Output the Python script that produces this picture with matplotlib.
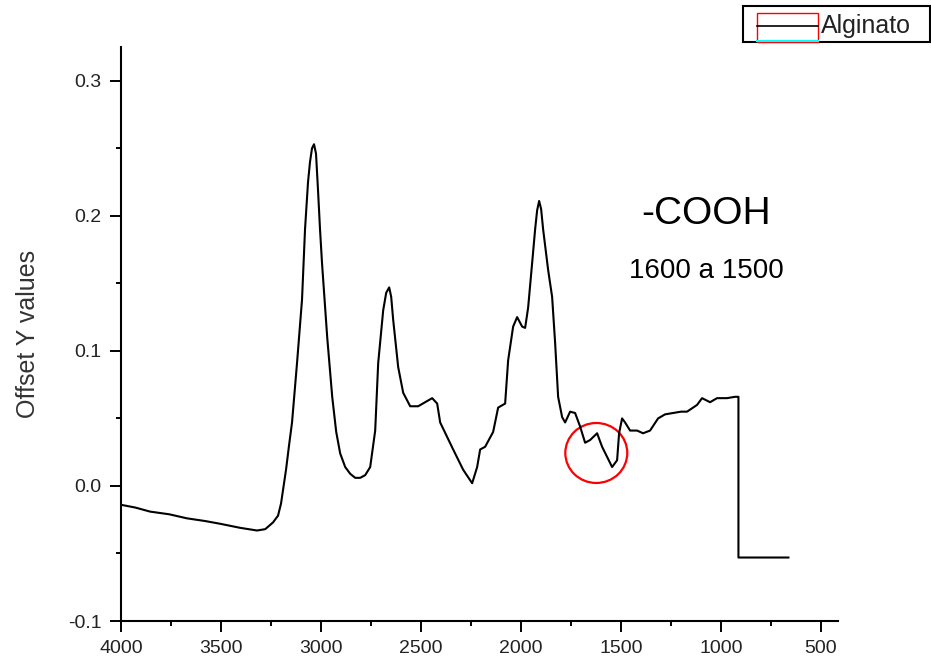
import matplotlib
matplotlib.use('Agg')
import matplotlib.pyplot as plt
from matplotlib.patches import Ellipse, Rectangle
from matplotlib.lines import Line2D
from matplotlib.ticker import MultipleLocator, FormatStrFormatter

plt.rcParams['font.family'] = ['Liberation Sans', 'DejaVu Sans']
plt.rcParams['axes.unicode_minus'] = False

###  DATA  ###
wavenumber = [4000, 3930, 3856, 3760, 3671, 3580, 3506, 3406, 3321, 3280,
              3241, 3216, 3201, 3191, 3176, 3161, 3146, 3121, 3096, 3081,
              3066, 3056, 3046, 3036, 3026, 3016, 3006, 2996, 2970, 2945,
              2925, 2905, 2880, 2855, 2830, 2805, 2780, 2755, 2730, 2715,
              2690, 2675, 2660, 2650, 2640, 2615, 2590, 2555, 2515, 2480,
              2445, 2420, 2405, 2340, 2290, 2245, 2220, 2205, 2180, 2140,
              2115, 2080, 2065, 2040, 2020, 1995, 1980, 1965, 1945, 1930,
              1920, 1910, 1900, 1890, 1865, 1845, 1830, 1815, 1795, 1780,
              1755, 1730, 1705, 1680, 1655, 1620, 1595, 1545, 1520, 1510,
              1495, 1480, 1455, 1420, 1390, 1355, 1315, 1280, 1240, 1200,
              1170, 1120, 1095, 1055, 1020, 970, 930, 913, 913, 663]
offset_y = [-0.014, -0.016, -0.019, -0.021, -0.024, -0.026, -0.028, -0.031, -0.033, -0.032,
            -0.027, -0.022, -0.013, -0.003, 0.012, 0.030, 0.047, 0.091, 0.138, 0.190,
            0.225, 0.240, 0.250, 0.253, 0.246, 0.219, 0.190, 0.165, 0.110, 0.066,
            0.040, 0.024, 0.014, 0.009, 0.006, 0.006, 0.008, 0.014, 0.041, 0.091,
            0.130, 0.143, 0.147, 0.140, 0.123, 0.088, 0.069, 0.059, 0.059, 0.062,
            0.065, 0.061, 0.047, 0.027, 0.012, 0.002, 0.014, 0.027, 0.029, 0.040,
            0.058, 0.061, 0.093, 0.118, 0.125, 0.118, 0.117, 0.132, 0.165, 0.190,
            0.204, 0.211, 0.205, 0.190, 0.160, 0.140, 0.106, 0.066, 0.051, 0.047,
            0.055, 0.054, 0.044, 0.032, 0.034, 0.039, 0.029, 0.014, 0.019, 0.039,
            0.050, 0.047, 0.041, 0.041, 0.039, 0.041, 0.050, 0.053, 0.054, 0.055,
            0.055, 0.060, 0.065, 0.062, 0.065, 0.065, 0.066, 0.066, -0.053, -0.053]

series_name = 'Alginato'
group_label = '-COOH'
range_label = '1600 a 1500'
circle_center = (1624, 0.0244)

###  PLOT  ###
W, H = 931, 663
fig = plt.figure(figsize=(W/100, H/100), dpi=100)
ax = fig.add_axes([121.3/W, 42/H, (838-121.3)/W, (621-47)/H])

ax.plot(wavenumber, offset_y, color='black', lw=1.5)

ax.set_xlim(4000, 415)
ax.set_ylim(-0.1, 0.325)
ax.xaxis.set_major_locator(MultipleLocator(500))
ax.xaxis.set_minor_locator(MultipleLocator(250))
ax.yaxis.set_major_locator(MultipleLocator(0.1))
ax.yaxis.set_minor_locator(MultipleLocator(0.05))
ax.yaxis.set_major_formatter(FormatStrFormatter('%.1f'))
for s in ['top', 'right']:
    ax.spines[s].set_visible(False)
for s in ['left', 'bottom']:
    ax.spines[s].set_linewidth(1.5)
ax.tick_params(which='major', length=8, width=1.4, pad=6, labelsize=14,
               colors='black', labelcolor='#222222')
ax.tick_params(which='minor', length=3.5, width=1.4)
ax.set_ylabel('Offset Y values', fontsize=18, color='#333333', labelpad=20)

ax.add_patch(Ellipse(circle_center, 310, 0.0444, fill=False, ec='red', lw=1.6))
ax.text(1074, 0.2015, group_label, fontsize=28, ha='center', va='center')
ax.text(1074, 0.159, range_label, fontsize=20, ha='center', va='center')

# origin-style legend box at top right
def px(x, y):
    return x / W, 1 - y / H

x0, y0 = px(743, 42)
x1, y1 = px(930, 6)
fig.add_artist(Rectangle((x0, y0), x1 - x0, y1 - y0, transform=fig.transFigure,
                         fill=False, ec='black', lw=1.5))
rx0, ry0 = px(757, 42)
rx1, ry1 = px(818, 13)
fig.add_artist(Rectangle((rx0, ry0), rx1 - rx0, ry1 - ry0, transform=fig.transFigure,
                         fill=False, ec='red', lw=1.0))
fig.add_artist(Line2D([rx0, rx1], [px(0, 41)[1]] * 2, transform=fig.transFigure, color='cyan', lw=1.5))
fig.add_artist(Line2D([rx0, rx1], [px(0, 26)[1]] * 2, transform=fig.transFigure, color='black', lw=1.2))
fig.text(px(821, 0)[0], px(0, 26)[1], series_name, fontsize=18, ha='left', va='center', color='#222222')

fig.savefig('out.png', dpi=100)
